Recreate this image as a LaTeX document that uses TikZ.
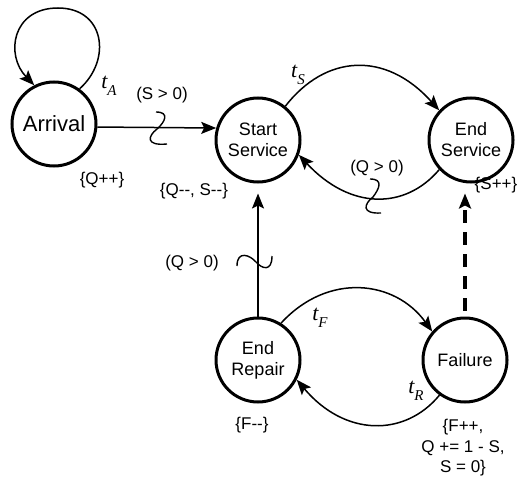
\documentclass[tikz,border=0pt]{standalone}
\usepackage{fontspec}
\setmainfont{Liberation Sans}
\newfontfamily\tfont{Liberation Serif}
\usetikzlibrary{arrows.meta,calc}
\newcommand{\tsub}[1]{{\tfont\itshape t\raisebox{-7pt}{\fontsize{15}{15}\selectfont #1}}}
\begin{document}
\begin{tikzpicture}[x=1pt,y=-1pt,
 st/.style={circle,draw,line width=3pt,minimum size=84pt,inner sep=0pt,align=center,font=\fontsize{18}{21}\selectfont},
 arr/.style={line width=1.5pt,-{Stealth[length=15pt,width=12pt,inset=3pt]}},
 dsh/.style={line width=3.5pt,dash pattern=on 13pt off 9pt,-{Stealth[length=15pt,width=12pt,inset=3pt]}},
 sq/.style={line width=1.4pt},
 lab/.style={font=\fontsize{17}{20}\selectfont,inner sep=0pt,align=center},
 tl/.style={font=\fontsize{22}{24}\selectfont,inner sep=0pt}]
\useasboundingbox[fill=white] (0,0) rectangle (518,481);
% states
\node[st,font=\fontsize{22}{24}\selectfont] (A) at (54,124) {Arrival};
\node[st] (SS) at (258,140) {Start\\Service};
\node[st] (ES) at (471,140) {End\\Service};
\node[st] (ER) at (258,360) {End\\Repair};
\node[st] (F) at (465,360) {Failure};
% self loop on Arrival
\coordinate (lt) at (58,8);
\draw[arr] (A.54) .. controls (112,60) and (105,8) .. (lt) .. controls (12,8) and (5,55) .. (A.117);
% Arrival -> Start Service
\draw[arr] (A.-4) -- (SS.164);
\draw[sq] (156,112) .. controls (170,112) and (165,122) .. (157,129) .. controls (148,136) and (145,146) .. (167,144);
% Start -> End Service
\draw[arr] (SS.51) .. controls (325,55) and (385,50) .. (ES.137);
% End Service -> Start
\draw[arr] (ES.-137) .. controls (405,210) and (350,210) .. (SS.-20);
\draw[sq] (370,179) .. controls (384,179) and (379,189) .. (373,197) .. controls (364,204) and (361,214) .. (381,213);
% End Repair -> Start Service
\draw[arr] (ER.north) -- ($(SS.south)+(0,10)$);
\draw[sq] (237,266) .. controls (237,250) and (250,255) .. (256,262) .. controls (262,269) and (272,272) .. (272,256);
% Failure -> End Service (dashed)
\draw[dsh] ($(F.north)+(0,-6)$) -- ($(F.north |- ES.south)+(0,10)$);
% End Repair -> Failure
\draw[arr] (ER.58) .. controls (328,272) and (395,280) .. (F.139);
% Failure -> End Repair
\draw[arr] (F.-126) .. controls (405,437) and (345,437) .. (ER.-27);
% labels
\node[tl] (tA) at (109,86) {\tsub{A}};
\node[tl] (tS) at (298,75) {\tsub{S}};
\node[tl] (tF) at (320,318) {\tsub{F}};
\node[tl] (tR) at (416,391) {\tsub{R}};
\node[lab] (c1) at (162,95) {(S > 0)};
\node[lab] (c2) at (377,168) {(Q > 0)};
\node[lab] (c3) at (192,263) {(Q > 0)};
\node[lab] (e1) at (102,180) {\{Q++\}};
\node[lab] (e2) at (194,191) {\{Q-{}-, S-{}-\}};
\node[lab] (e3) at (496,185) {\{S++\}};
\node[lab] (e4) at (252,425) {\{F-{}-\}};
\node[lab,font=\fontsize{17}{20.5}\selectfont] (e5) at (463,448) {\{F++,\\Q += 1 - S,\\S = 0\}};
\end{tikzpicture}
\end{document}
